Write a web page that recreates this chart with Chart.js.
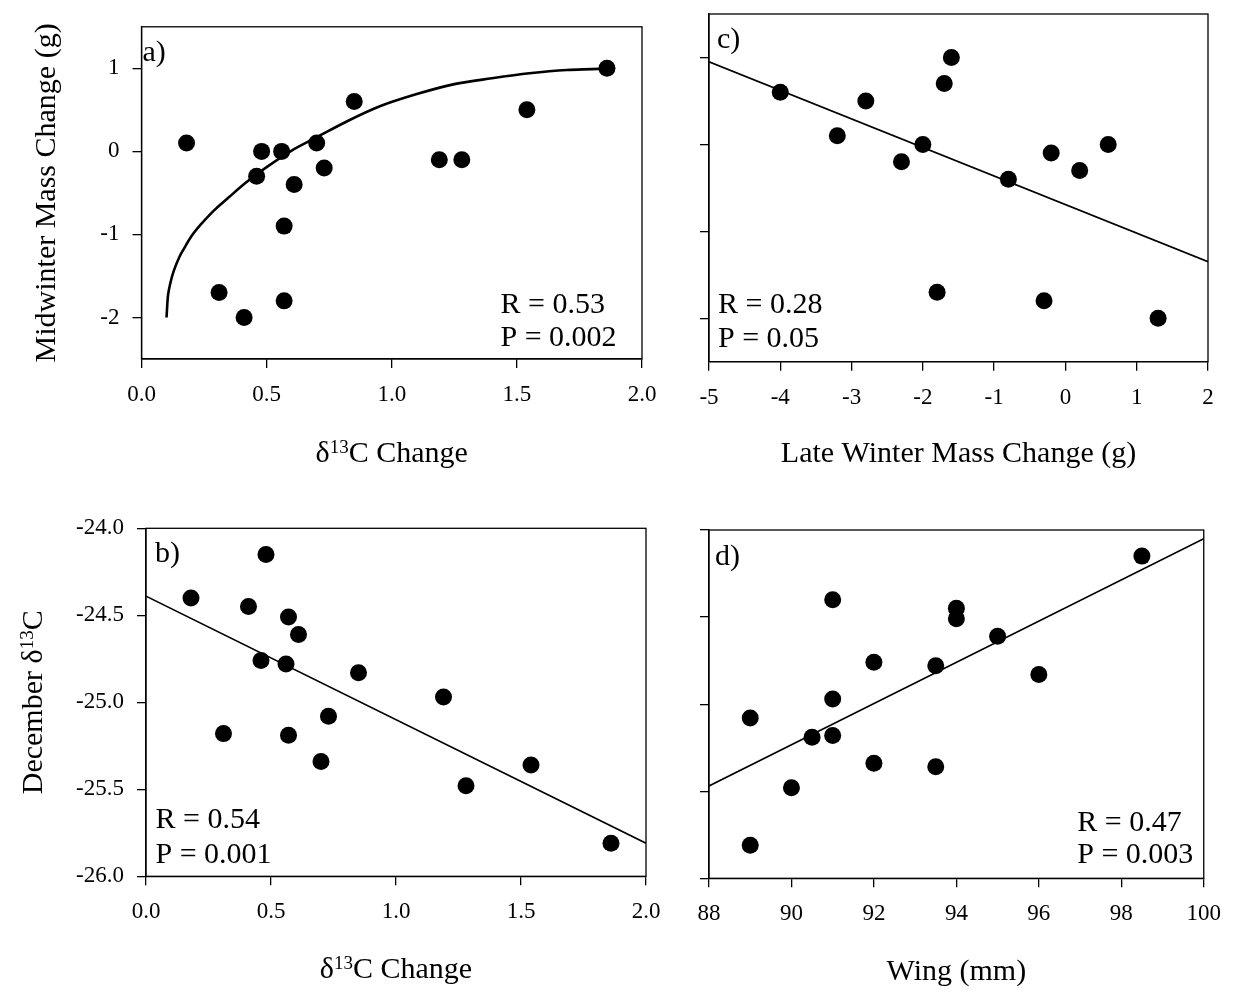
<!DOCTYPE html>
<html>
<head>
<meta charset="utf-8">
<script src="https://cdn.jsdelivr.net/npm/chart.js@4.4.1/dist/chart.umd.min.js"></script>
<style>
  html, body { margin: 0; padding: 0; background: #fff; }
  #wrap { position: relative; width: 1234px; height: 992px; overflow: hidden; }
  #wrap canvas { position: absolute; }
</style>
</head>
<body>
<div id="wrap">
  <canvas id="panelA" width="680" height="496" style="left:0;top:0"></canvas>
  <canvas id="panelC" width="617" height="496" style="left:617px;top:0"></canvas>
  <canvas id="panelB" width="680" height="496" style="left:0;top:496px"></canvas>
  <canvas id="panelD" width="617" height="496" style="left:617px;top:496px"></canvas>
</div>
<script>
// shared x for panels a) and b)
const carbonChange = [0.18, 0.31, 0.41, 0.46, 0.48, 0.56, 0.57, 0.57, 0.61, 0.70, 0.73, 0.85, 1.19, 1.28, 1.54, 1.86];
const midwinterMass = [0.1, -1.7, -2.0, -0.3, 0.0, 0.0, -0.9, -1.8, -0.4, 0.1, -0.2, 0.6, -0.1, -0.1, 0.5, 1.0];
const decemberCarbon = [-24.40, -25.18, -24.45, -24.76, -24.15, -24.78, -24.51, -25.19, -24.61, -25.34, -25.08, -24.83, -24.97, -25.48, -25.36, -25.81];

// panel c)
const lateWinterMass = [-4.0, -3.2, -2.8, -2.3, -2.0, -1.8, -1.7, -1.6, -0.8, -0.3, -0.2, 0.2, 0.6, 1.3];
const midwinterMassC = [0.6, 0.1, 0.5, -0.2, 0.0, -1.7, 0.7, 1.0, -0.4, -1.8, -0.1, -0.3, 0.0, -2.0];

// panel d)
const wing = [89, 89, 90, 90.5, 91, 91, 91, 92, 92, 93.5, 93.5, 94, 94, 95, 96, 98.5];
const decemberCarbonD = [-25.08, -25.81, -25.48, -25.19, -24.40, -24.97, -25.18, -24.76, -25.34, -24.78, -25.36, -24.45, -24.51, -24.61, -24.83, -24.15];

// fitted curve in a), sampled along its length
const curveAX = [0.10, 0.105, 0.11, 0.12, 0.13, 0.15, 0.17, 0.20, 0.24, 0.29, 0.35, 0.42, 0.50, 0.60, 0.70, 0.82, 0.95, 1.10, 1.25, 1.40, 1.55, 1.70, 1.80, 1.89];
const curveAY = [-2.00, -1.76, -1.66, -1.53, -1.43, -1.28, -1.17, -1.02, -0.87, -0.71, -0.55, -0.37, -0.19, 0.01, 0.17, 0.36, 0.54, 0.69, 0.81, 0.88, 0.94, 0.98, 0.99, 1.00];
// regression lines in b), c), d)
const lineBX = [0, 2];
const lineBY = [-24.39, -25.81];
const lineCX = [-5, 2];
const lineCY = [0.95, -1.35];
const lineDX = [88, 100];
const lineDY = [-25.47, -24.05];

// axis ticks
const changeTicks = [0, 0.5, 1.0, 1.5, 2.0];
const massTicks = [-2, -1, 0, 1];
const lateMassTicks = [-5, -4, -3, -2, -1, 0, 1, 2];
const decTicks = [-26, -25.5, -25, -24.5, -24];
const wingTicks = [88, 90, 92, 94, 96, 98, 100];

const SERIF = '"Liberation Serif", "Times New Roman", Times, serif';
Chart.defaults.font.family = SERIF;
Chart.defaults.color = '#000';

const zip = (xs, ys) => xs.map((x, i) => ({ x, y: ys[i] }));

// text drawn with optional superscript parts, e.g. δ¹³C
function drawRich(ctx, it, a) {
  const x = (it.ax === 'left' ? a.left : it.ax === 'right' ? a.right : (a.left + a.right) / 2) + (it.dx || 0);
  const y = (it.ay === 'top' ? a.top : it.ay === 'bottom' ? a.bottom : (a.top + a.bottom) / 2) + (it.dy || 0);
  const parts = it.parts.map(p => typeof p === 'string'
    ? { t: p, size: 30, rise: 0 }
    : { t: p.sup, size: 19, rise: 9 });
  let width = 0;
  for (const p of parts) {
    ctx.font = p.size + 'px ' + SERIF;
    p.w = ctx.measureText(p.t).width;
    width += p.w;
  }
  ctx.save();
  ctx.translate(x, y);
  if (it.rotate) ctx.rotate(-Math.PI / 2);
  ctx.textBaseline = 'alphabetic';
  ctx.textAlign = 'left';
  let cx = it.align === 'center' ? -width / 2 : 0;
  for (const p of parts) {
    ctx.font = p.size + 'px ' + SERIF;
    ctx.fillText(p.t, cx, -p.rise);
    cx += p.w;
  }
  ctx.restore();
}

const panelText = {
  id: 'panelText',
  afterDraw(chart, args, opts) {
    const { ctx, chartArea: a } = chart;
    ctx.save();
    ctx.strokeStyle = '#000';
    ctx.lineWidth = 1.3;
    ctx.strokeRect(a.left, a.top, a.right - a.left, a.bottom - a.top);
    ctx.fillStyle = '#000';
    for (const it of opts.items) drawRich(ctx, it, a);
    ctx.restore();
  }
};

function axis(min, max, ticks, fmt, showLabels, fit) {
  return {
    type: 'linear',
    min, max,
    afterFit: fit,
    afterBuildTicks: s => { s.ticks = ticks.map(v => ({ value: v })); },
    ticks: { display: showLabels, font: { size: 23 }, padding: 13, callback: fmt, autoSkip: false, maxRotation: 0 },
    grid: { drawOnChartArea: false, drawTicks: true, tickLength: 9, color: '#000', lineWidth: 1.3 },
    border: { display: true, color: '#000', width: 1.3 }
  };
}

function panel(id, o) {
  const c = document.getElementById(id);
  const W = c.width, H = c.height;
  const [L, T, R, B] = o.area;
  return new Chart(c, {
    type: 'scatter',
    data: {
      datasets: [
        { data: o.fit, showLine: true, borderColor: '#000', borderWidth: o.fitWidth, pointRadius: 0,
          cubicInterpolationMode: o.smooth ? 'monotone' : 'default', tension: 0, fill: false },
        { data: o.points, pointRadius: 8.5, pointHoverRadius: 8.5, backgroundColor: '#000', borderColor: '#000', borderWidth: 0 }
      ]
    },
    options: {
      responsive: false,
      animation: false,
      events: [],
      layout: { autoPadding: false, padding: { left: 0, top: T, right: W - R, bottom: 0 } },
      plugins: { legend: { display: false }, tooltip: { enabled: false }, panelText: { items: o.text } },
      scales: {
        x: axis(o.x[0], o.x[1], o.x[2], o.x[3], true, s => { s.height = H - B; }),
        y: axis(o.y[0], o.y[1], o.y[2], o.y[3], o.yLabels, s => { s.width = L; })
      }
    },
    plugins: [panelText]
  });
}

const oneDecimal = v => Number(v).toFixed(1);
const plain = v => String(v);

panel('panelA', {
  area: [141.5, 10.7, 642, 359],
  points: zip(carbonChange, midwinterMass),
  fit: zip(curveAX, curveAY), fitWidth: 2.6, smooth: true,
  x: [0, 2, changeTicks, oneDecimal],
  y: [-2.5, 1.5, massTicks, plain], yLabels: true,
  text: [
    { parts: ['δ', { sup: '13' }, 'C Change'], ax: 'center', ay: 'bottom', dy: 103, align: 'center' },
    { parts: ['Midwinter Mass Change (g)'], rotate: true, ax: 'left', dx: -86.5, ay: 'middle', align: 'center' },
    { parts: ['a)'], ax: 'left', dx: 1, ay: 'top', dy: 34.3 },
    { parts: ['R = 0.53'], ax: 'right', dx: -141.5, ay: 'bottom', dy: -45.7 },
    { parts: ['P = 0.002'], ax: 'right', dx: -141.5, ay: 'bottom', dy: -13 }
  ]
});

panel('panelC', {
  area: [92, 14, 591, 361.7],
  points: zip(lateWinterMass, midwinterMassC),
  fit: zip(lineCX, lineCY), fitWidth: 1.6,
  x: [-5, 2, lateMassTicks, plain],
  y: [-2.5, 1.5, massTicks, plain], yLabels: false,
  text: [
    { parts: ['Late Winter Mass Change (g)'], ax: 'center', ay: 'bottom', dy: 100.3, align: 'center' },
    { parts: ['c)'], ax: 'left', dx: 8, ay: 'top', dy: 34 },
    { parts: ['R = 0.28'], ax: 'left', dx: 9, ay: 'bottom', dy: -48.4 },
    { parts: ['P = 0.05'], ax: 'left', dx: 9, ay: 'bottom', dy: -15 }
  ]
});

panel('panelB', {
  area: [146, 32.3, 646, 380.3],
  points: zip(carbonChange, decemberCarbon),
  fit: zip(lineBX, lineBY), fitWidth: 1.6,
  x: [0, 2, changeTicks, oneDecimal],
  y: [-26, -24, decTicks, oneDecimal], yLabels: true,
  text: [
    { parts: ['δ', { sup: '13' }, 'C Change'], ax: 'center', ay: 'bottom', dy: 102, align: 'center' },
    { parts: ['December δ', { sup: '13' }, 'C'], rotate: true, ax: 'left', dx: -104.3, ay: 'middle', align: 'center' },
    { parts: ['b)'], ax: 'left', dx: 9, ay: 'top', dy: 33.4 },
    { parts: ['R = 0.54'], ax: 'left', dx: 9.5, ay: 'bottom', dy: -48 },
    { parts: ['P = 0.001'], ax: 'left', dx: 9.5, ay: 'bottom', dy: -13 }
  ]
});

panel('panelD', {
  area: [92, 34, 590, 382.3],
  points: zip(wing, decemberCarbonD),
  fit: zip(lineDX, lineDY), fitWidth: 1.6,
  x: [88, 100, wingTicks, plain],
  y: [-26, -24, decTicks, oneDecimal], yLabels: false,
  text: [
    { parts: ['Wing (mm)'], ax: 'center', ay: 'bottom', dy: 102, align: 'center' },
    { parts: ['d)'], ax: 'left', dx: 6, ay: 'top', dy: 35 },
    { parts: ['R = 0.47'], ax: 'right', dx: -126.5, ay: 'bottom', dy: -47.6 },
    { parts: ['P = 0.003'], ax: 'right', dx: -126.5, ay: 'bottom', dy: -15.6 }
  ]
});
</script>
</body>
</html>
